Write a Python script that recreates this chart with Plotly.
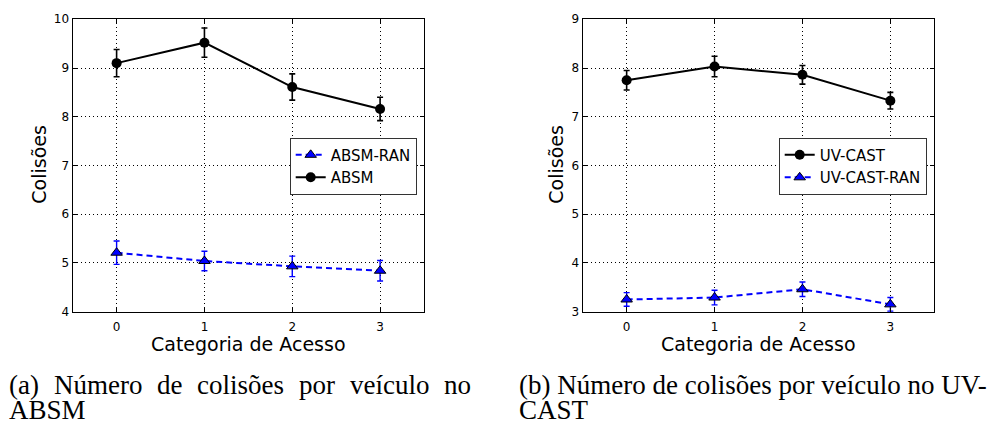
import plotly.graph_objects as go

# Access categories on the x axis
categorias = [0, 1, 2, 3]

# (a) collisions per vehicle, ABSM vs ABSM-RAN (mean and error)
absm = [9.10, 9.52, 8.61, 8.16]
absm_err = [0.28, 0.30, 0.27, 0.24]
absm_ran = [5.21, 5.04, 4.93, 4.84]
absm_ran_err = [0.24, 0.20, 0.21, 0.21]

# (b) collisions per vehicle, UV-CAST vs UV-CAST-RAN (mean and error)
uvcast = [7.75, 8.03, 7.86, 7.33]
uvcast_err = [0.20, 0.21, 0.19, 0.17]
uvcast_ran = [3.25, 3.29, 3.46, 3.15]
uvcast_ran_err = [0.14, 0.15, 0.15, 0.14]

W, H = 990, 427
AX_FONT = "DejaVu Sans"
CAP_FONT = "Liberation Serif"


def px_x(p):
    return p / W


def px_y(p):
    return 1 - p / H


def solid_trace(y, err, name, xa, ya, legend):
    return go.Scatter(
        x=categorias, y=y, name=name, xaxis=xa, yaxis=ya, legend=legend,
        mode="lines+markers",
        line=dict(color="black", width=2),
        marker=dict(symbol="circle", size=10, color="black"),
        error_y=dict(type="data", array=err, visible=True,
                     color="black", thickness=1.6, width=3),
    )


def dashed_trace(y, err, name, xa, ya, legend):
    return go.Scatter(
        x=categorias, y=y, name=name, xaxis=xa, yaxis=ya, legend=legend,
        mode="lines+markers",
        line=dict(color="#0000ff", width=2, dash="6px,4px"),
        marker=dict(symbol="triangle-up", size=10, color="#0000ff",
                    line=dict(color="black", width=1)),
        error_y=dict(type="data", array=err, visible=True,
                     color="#0000ff", thickness=1.4, width=3),
    )


fig = go.Figure()
fig.add_trace(dashed_trace(absm_ran, absm_ran_err, "ABSM-RAN", "x", "y", "legend"))
fig.add_trace(solid_trace(absm, absm_err, "ABSM", "x", "y", "legend"))
fig.add_trace(solid_trace(uvcast, uvcast_err, "UV-CAST", "x2", "y2", "legend2"))
fig.add_trace(dashed_trace(uvcast_ran, uvcast_ran_err, "UV-CAST-RAN", "x2", "y2", "legend2"))

y_dom = [px_y(315), px_y(12.7)]

grid_style = dict(showgrid=True, gridcolor="black", gridwidth=1, griddash="1px,3px")
frame_style = dict(showline=True, linecolor="black", linewidth=1.3, mirror="ticks",
                   ticks="inside", ticklen=4, tickcolor="black", zeroline=False)

xcommon = dict(
    range=[-0.5, 3.5], tickmode="array", tickvals=categorias,
    ticklabelstandoff=4,
    tickfont=dict(family=AX_FONT, size=12, color="black"),
    **grid_style, **frame_style,
)
ycommon = dict(
    dtick=1,
    tickfont=dict(family=AX_FONT, size=12, color="black"),
    **grid_style, **frame_style,
)

legend_common = dict(
    bgcolor="white", bordercolor="#333333", borderwidth=1,
    font=dict(family=AX_FONT, size=15, color="black"),
    xanchor="right", yanchor="top", traceorder="normal",
    itemwidth=30, tracegroupgap=0,
)

fig.update_layout(
    width=W, height=H,
    margin=dict(l=0, r=0, t=0, b=0),
    paper_bgcolor="white", plot_bgcolor="white",
    xaxis=dict(domain=[px_x(72.7), px_x(424)], anchor="y", **xcommon),
    yaxis=dict(domain=y_dom, anchor="x", range=[4, 10], **ycommon),
    xaxis2=dict(domain=[px_x(582.7), px_x(934.3)], anchor="y2", **xcommon),
    yaxis2=dict(domain=y_dom, anchor="x2", range=[3, 9], **ycommon),
    legend=dict(x=px_x(416.7), y=px_y(135), **legend_common),
    legend2=dict(x=px_x(926.7), y=px_y(135), **legend_common),
)

annotations = []

# Axis titles
for cx in (248.4, 758.5):
    annotations.append(dict(
        text="Categoria de Acesso", x=px_x(cx), y=px_y(348),
        xref="paper", yref="paper", xanchor="center", yanchor="middle",
        showarrow=False, font=dict(family=AX_FONT, size=19, color="black")))
for cx in (39, 556):
    annotations.append(dict(
        text="Colisões", x=px_x(cx), y=px_y(163), textangle=-90,
        xref="paper", yref="paper", xanchor="center", yanchor="middle",
        showarrow=False, font=dict(family=AX_FONT, size=19, color="black")))

# Sub-figure captions; the first line of (a) is justified word by word
cap_font = dict(family=CAP_FONT, size=27, color="black")
line1_y, line2_y = 391, 417
words_a = [("(a)", 8), ("Número", 53), ("de", 156), ("colisões", 196),
           ("por", 298), ("veículo", 349), ("no", 443)]
for word, left in words_a:
    annotations.append(dict(
        text=word, x=px_x(left), y=px_y(line1_y), xref="paper", yref="paper",
        xanchor="left", yanchor="middle", showarrow=False, font=cap_font,
        borderpad=0))
annotations.append(dict(
    text="ABSM", x=px_x(8), y=px_y(line2_y), xref="paper", yref="paper",
    xanchor="left", yanchor="middle", showarrow=False, font=cap_font, borderpad=0))
annotations.append(dict(
    text="(b) Número de colisões por veículo no UV-", x=px_x(518), y=px_y(line1_y),
    xref="paper", yref="paper", xanchor="left", yanchor="middle",
    showarrow=False, font=cap_font, borderpad=0))
annotations.append(dict(
    text="CAST", x=px_x(518), y=px_y(line2_y), xref="paper", yref="paper",
    xanchor="left", yanchor="middle", showarrow=False, font=cap_font, borderpad=0))

fig.update_layout(annotations=annotations)

fig.write_html("out.html")
